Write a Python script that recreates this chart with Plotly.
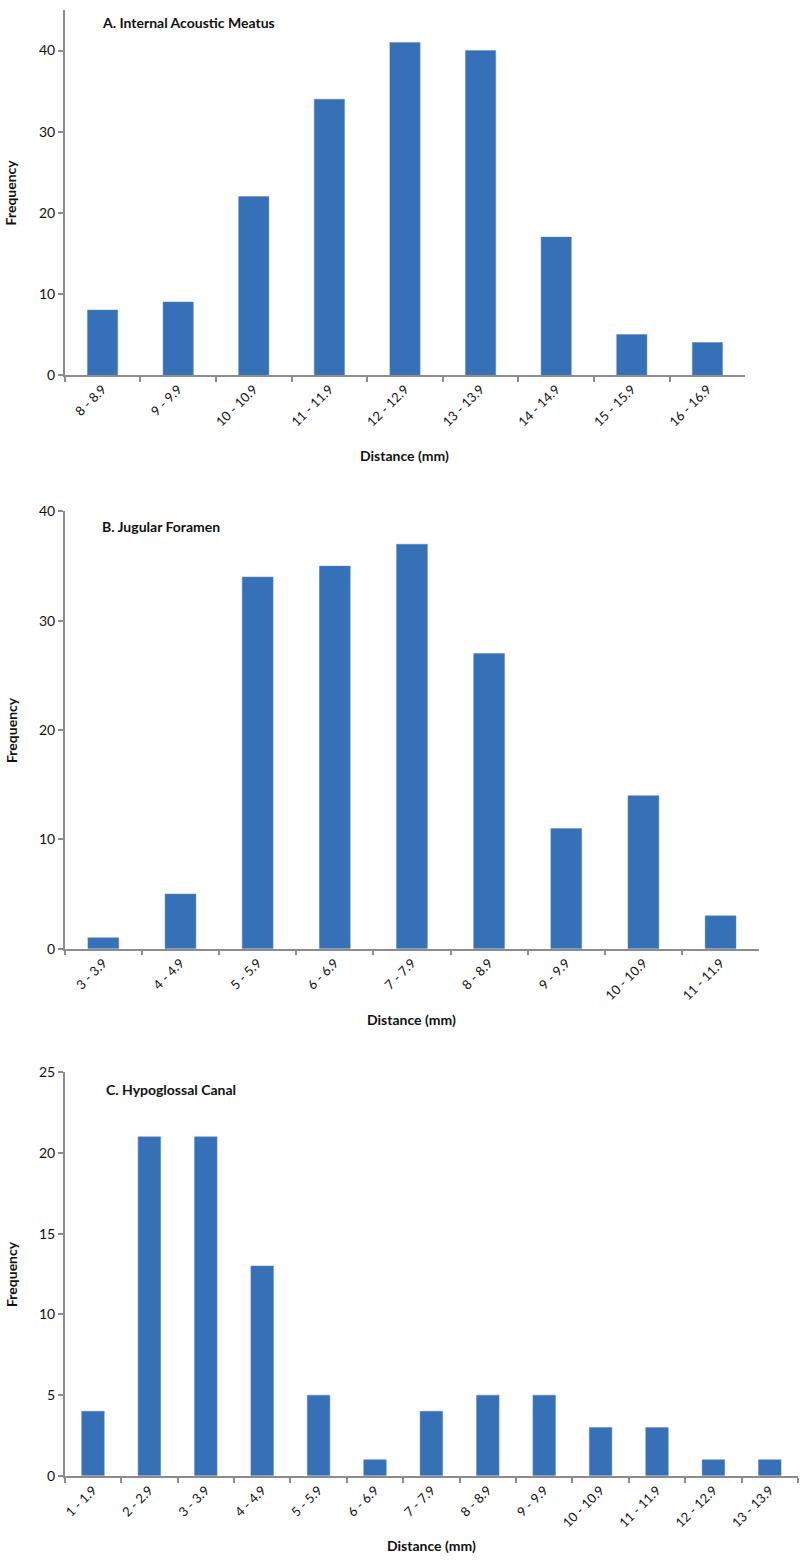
import plotly.graph_objects as go

W, H = 800, 1562

# panel A - internal acoustic meatus
iam_bins = ["8 - 8.9", "9 - 9.9", "10 - 10.9", "11 - 11.9", "12 - 12.9",
            "13 - 13.9", "14 - 14.9", "15 - 15.9", "16 - 16.9"]
iam_freq = [8, 9, 22, 34, 41, 40, 17, 5, 4]

# panel B - jugular foramen
jf_bins = ["3 - 3.9", "4 - 4.9", "5 - 5.9", "6 - 6.9", "7 - 7.9",
           "8 - 8.9", "9 - 9.9", "10 - 10.9", "11 - 11.9"]
jf_freq = [1, 5, 34, 35, 37, 27, 11, 14, 3]

# panel C - hypoglossal canal
hc_bins = ["1 - 1.9", "2 - 2.9", "3 - 3.9", "4 - 4.9", "5 - 5.9", "6 - 6.9",
           "7 - 7.9", "8 - 8.9", "9 - 9.9", "10 - 10.9", "11 - 11.9",
           "12 - 12.9", "13 - 13.9"]
hc_freq = [4, 21, 21, 13, 5, 1, 4, 5, 5, 3, 3, 1, 1]

titles = ["A. Internal Acoustic Meatus", "B. Jugular Foramen", "C. Hypoglossal Canal"]


def px_x(v):
    return v / W


def px_y(v):
    return (H - v) / H


# plot box in pixels (left, right, top, bottom), y max, y step, title pos, x-title y
panels = [
    (iam_bins, iam_freq, (62, 745, 1, 370), 45, 10, (97, 14), 451),
    (jf_bins, jf_freq, (62, 759, 508, 950), 40, 10, (97, 523), 1022),
    (hc_bins, hc_freq, (62, 798, 1075, 1483), 25, 5, (101, 1092), 1553),
]

FONT = "Lato, 'Open Sans', sans-serif"
AXIS_COL = "#8c8c8c"
BAR_COL = "#3670b6"

fig = go.Figure()
annotations = []

for i, (cats, vals, box, ymax, step, tpos, xlab_y) in enumerate(panels):
    n = i + 1
    xa = "x" if n == 1 else f"x{n}"
    ya = "y" if n == 1 else f"y{n}"
    left, right, top, bottom = box

    fig.add_trace(go.Bar(
        x=cats, y=vals, xaxis=xa, yaxis=ya, width=0.4,
        marker=dict(color=BAR_COL, line=dict(color="#5a87c0", width=0.5)),
        showlegend=False,
    ))

    fig.update_layout(**{
        f"xaxis{'' if n == 1 else n}": dict(
            domain=[px_x(left), px_x(right)], anchor=ya,
            type="category", range=[-0.5, len(cats) - 0.5],
            showline=True, linecolor=AXIS_COL, linewidth=1.5,
            ticks="outside", ticklen=5, tickcolor=AXIS_COL, tickwidth=1.5,
            tickson="boundaries", tickangle=-45, showgrid=False,
            tickfont=dict(family=FONT, size=13, color="#111111"),
            fixedrange=True,
        ),
        f"yaxis{'' if n == 1 else n}": dict(
            domain=[px_y(bottom), px_y(top)], anchor=xa,
            range=[0, ymax], tickmode="array",
            tickvals=list(range(0, ymax + 1 if ymax % step == 0 else ymax, step)),
            showline=True, linecolor=AXIS_COL, linewidth=1.5,
            ticks="outside", ticklen=5, tickcolor=AXIS_COL, tickwidth=1.5,
            showgrid=False, zeroline=False,
            tickfont=dict(family=FONT, size=14, color="#111111"),
            fixedrange=True,
        ),
    })

    annotations.append(dict(
        text=f"<b>{titles[i]}</b>", xref="paper", yref="paper",
        x=px_x(tpos[0]), y=px_y(tpos[1]), xanchor="left", yanchor="middle",
        showarrow=False, font=dict(family=FONT, size=14, color="#111111"),
    ))
    annotations.append(dict(
        text="<b>Distance (mm)</b>", xref="paper", yref="paper",
        x=px_x((left + right) / 2), y=px_y(xlab_y), xanchor="center", yanchor="middle",
        showarrow=False, font=dict(family=FONT, size=14, color="#111111"),
    ))
    annotations.append(dict(
        text="<b>Frequency</b>", xref="paper", yref="paper", textangle=-90,
        x=px_x(8), y=px_y((top + bottom) / 2), xanchor="center", yanchor="middle",
        showarrow=False, font=dict(family=FONT, size=14, color="#111111"),
    ))

fig.update_layout(
    width=W, height=H,
    margin=dict(l=0, r=0, t=0, b=0),
    paper_bgcolor="white", plot_bgcolor="white",
    bargap=0.6,
    annotations=annotations,
)

# drop the default body margin so the figure sits at the page origin
fig.write_html("out.html", config={"displayModeBar": False},
               post_script="document.body.style.margin='0';")
